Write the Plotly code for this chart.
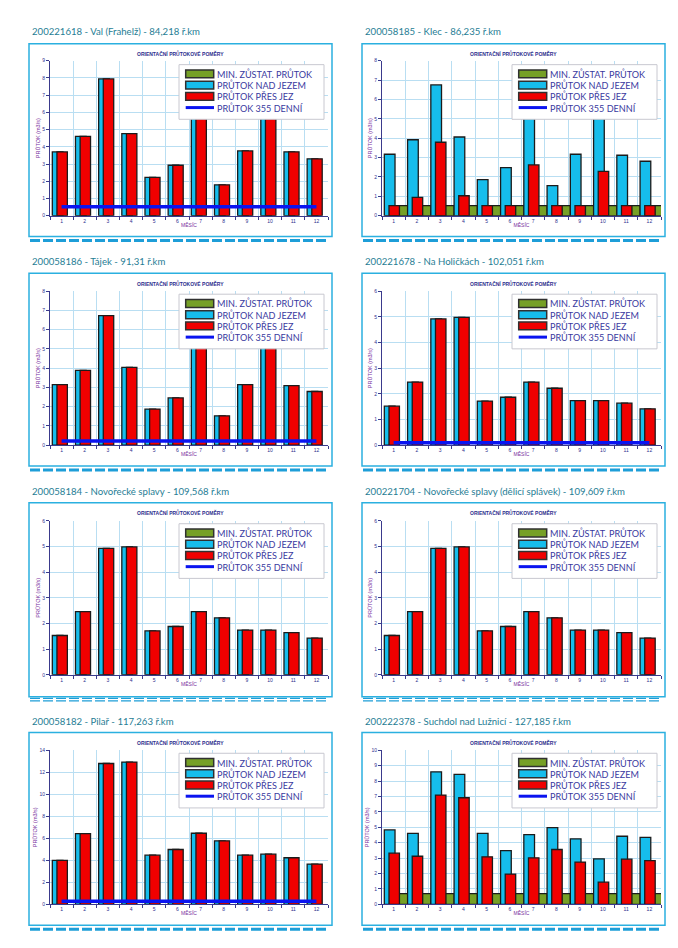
import plotly.graph_objects as go

W, H = 678, 948

# ---------------- data ----------------
months = list(range(1, 13))
month_labels = [str(m) for m in months]

legend_labels = ["MIN. ZŮSTAT. PRŮTOK", "PRŮTOK NAD JEZEM", "PRŮTOK PŘES JEZ", "PRŮTOK 355 DENNÍ"]
chart_title = "ORIENTAČNÍ PRŮTOKOVÉ POMĚRY"
y_title = "PRŮTOK (m3/s)"
x_title = "MĚSÍC"

titles = [
    "200221618 - Val (Frahelž) - 84,218 ř.km",
    "200058185 - Klec - 86,235 ř.km",
    "200058186 - Tájek - 91,31 ř.km",
    "200221678 - Na Holičkách - 102,051 ř.km",
    "200058184 - Novořecké splavy - 109,568 ř.km",
    "200221704 - Novořecké splavy (dělicí splávek) - 109,609 ř.km",
    "200058182 - Pilař - 117,263 ř.km",
    "200222378 - Suchdol nad Lužnicí - 127,185 ř.km",
]

val_nad = [3.70, 4.60, 7.94, 4.76, 2.22, 2.93, 6.54, 1.79, 3.76, 6.15, 3.71, 3.30]
val_pres = [3.70, 4.60, 7.94, 4.76, 2.22, 2.93, 6.54, 1.79, 3.76, 6.15, 3.71, 3.30]
val_min = [None] * 12
val_q355 = [0.52] * 12

klec_nad = [3.17, 3.92, 6.75, 4.06, 1.86, 2.48, 5.59, 1.55, 3.17, 5.26, 3.12, 2.81]
klec_pres = [0.52, 0.95, 3.79, 1.03, 0.52, 0.52, 2.62, 0.52, 0.52, 2.29, 0.52, 0.52]
klec_min = [0.52] * 12
klec_q355 = [None] * 12

tajek_nad = [3.15, 3.89, 6.73, 4.04, 1.88, 2.46, 5.59, 1.53, 3.15, 5.26, 3.10, 2.79]
tajek_pres = [3.15, 3.89, 6.73, 4.04, 1.88, 2.46, 5.59, 1.53, 3.15, 5.26, 3.10, 2.79]
tajek_min = [None] * 12
tajek_q355 = [0.22] * 12

holicky_nad = [1.52, 2.46, 4.92, 4.98, 1.72, 1.87, 2.46, 2.22, 1.74, 1.74, 1.64, 1.42]
holicky_pres = [1.52, 2.46, 4.92, 4.98, 1.72, 1.87, 2.46, 2.22, 1.74, 1.74, 1.64, 1.42]
holicky_min = [None] * 12
holicky_q355 = [0.10] * 12

novorecke_nad = [1.53, 2.46, 4.92, 4.98, 1.71, 1.88, 2.46, 2.22, 1.74, 1.74, 1.64, 1.43]
novorecke_pres = [1.53, 2.46, 4.92, 4.98, 1.71, 1.88, 2.46, 2.22, 1.74, 1.74, 1.64, 1.43]
novorecke_min = [None] * 12
novorecke_q355 = [None] * 12

delici_nad = [1.53, 2.46, 4.92, 4.98, 1.71, 1.88, 2.46, 2.22, 1.74, 1.74, 1.64, 1.43]
delici_pres = [1.53, 2.46, 4.92, 4.98, 1.71, 1.88, 2.46, 2.22, 1.74, 1.74, 1.64, 1.43]
delici_min = [None] * 12
delici_q355 = [None] * 12

pilar_nad = [3.99, 6.43, 12.80, 12.93, 4.47, 4.98, 6.46, 5.77, 4.47, 4.56, 4.23, 3.66]
pilar_pres = [3.99, 6.43, 12.80, 12.93, 4.47, 4.98, 6.46, 5.77, 4.47, 4.56, 4.23, 3.66]
pilar_min = [None] * 12
pilar_q355 = [0.27] * 12

suchdol_nad = [4.83, 4.61, 8.60, 8.43, 4.61, 3.49, 4.53, 4.98, 4.25, 2.95, 4.42, 4.35]
suchdol_pres = [3.32, 3.12, 7.09, 6.92, 3.08, 1.96, 3.02, 3.56, 2.74, 1.44, 2.93, 2.84]
suchdol_min = [0.69] * 12
suchdol_q355 = [None] * 12

y_max = [9, 8, 8, 6, 6, 6, 14, 10]
y_dtick = [1, 1, 1, 1, 1, 1, 2, 1]

series = [
    (val_min, val_nad, val_pres, val_q355),
    (klec_min, klec_nad, klec_pres, klec_q355),
    (tajek_min, tajek_nad, tajek_pres, tajek_q355),
    (holicky_min, holicky_nad, holicky_pres, holicky_q355),
    (novorecke_min, novorecke_nad, novorecke_pres, novorecke_q355),
    (delici_min, delici_nad, delici_pres, delici_q355),
    (pilar_min, pilar_nad, pilar_pres, pilar_q355),
    (suchdol_min, suchdol_nad, suchdol_pres, suchdol_q355),
]

# ---------------- layout geometry (pixels) ----------------
col_box = [(21, 324), (354, 657)]
col_plot = [(42, 320), (374, 653)]
row_box = [(33, 227), (264, 458), (495, 690), (726, 920)]
row_plot = [(50, 206), (282, 437), (513, 668), (744, 899)]
row_title_y = [21, 252, 484, 715]
row_dash_y = [231, 462, 693, 924]
row_dash_double = [False, False, True, False]

C_TITLE = "#1f7d94"
C_BOX = "#2bb0e0"
C_DASH = "#1e9ed8"
C_GRID = "#b9def2"
C_AXIS = "#3a3a8c"
C_TEXT = "#2e2e8e"
C_YTITLE = "#7a2f9e"
C_GREEN = "#76a026"
C_BLUE = "#16bdec"
C_RED = "#f00000"
C_EDGE = "#1b1b1b"
C_LINE = "#0a14f0"


def px(x):
    return x / W


def py(y):
    return 1 - y / H


fig = go.Figure()
shapes = []
annotations = []
layout_axes = {}

for i in range(8):
    r, c = divmod(i, 2)
    xa = "x" if i == 0 else f"x{i+1}"
    ya = "y" if i == 0 else f"y{i+1}"
    xkey = "xaxis" if i == 0 else f"xaxis{i+1}"
    ykey = "yaxis" if i == 0 else f"yaxis{i+1}"
    mn, nad, pres, q355 = series[i]

    fig.add_trace(go.Bar(x=months, y=mn, xaxis=xa, yaxis=ya, offset=0.0, width=0.6,
                         marker=dict(color=C_GREEN, line=dict(color=C_EDGE, width=1.2)),
                         name=legend_labels[0], showlegend=False))
    fig.add_trace(go.Bar(x=months, y=nad, xaxis=xa, yaxis=ya, offset=-0.40, width=0.46,
                         marker=dict(color=C_BLUE, line=dict(color=C_EDGE, width=1.3)),
                         name=legend_labels[1], showlegend=False))
    fig.add_trace(go.Bar(x=months, y=pres, xaxis=xa, yaxis=ya, offset=-0.20, width=0.45,
                         marker=dict(color=C_RED, line=dict(color=C_EDGE, width=1.3)),
                         name=legend_labels[2], showlegend=False))
    fig.add_trace(go.Scatter(x=months, y=q355, xaxis=xa, yaxis=ya, mode="lines",
                             line=dict(color=C_LINE, width=3.5),
                             name=legend_labels[3], showlegend=False))

    xl, xr = col_plot[c]
    yt, yb = row_plot[r]
    layout_axes[xkey] = dict(
        domain=[px(xl), px(xr)], anchor=ya, range=[0.5, 12.5],
        tickmode="array", tickvals=months, ticktext=month_labels,
        ticks="", showgrid=False, zeroline=False,
        showline=True, linecolor=C_AXIS, linewidth=1,
        tickfont=dict(size=5, color=C_TEXT, family="Liberation Sans"),
        minor=dict(tickmode="array", tickvals=[m + 0.5 for m in [0] + months],
                   showgrid=True, gridcolor=C_GRID, gridwidth=1,
                   ticks="outside", ticklen=3, tickcolor=C_AXIS),
        title=dict(text=x_title, font=dict(size=5, color=C_YTITLE, family="Liberation Sans"),
                   standoff=0),
        fixedrange=True,
    )
    layout_axes[ykey] = dict(
        domain=[py(yb), py(yt)], anchor=xa, range=[0, y_max[i]], dtick=y_dtick[i],
        showgrid=True, gridcolor=C_GRID, gridwidth=1, zeroline=False,
        showline=True, linecolor=C_AXIS, linewidth=1,
        ticks="outside", ticklen=3, tickcolor=C_AXIS,
        tickfont=dict(size=5, color=C_TEXT, family="Liberation Sans"),
        title=dict(text=y_title, font=dict(size=5.5, color=C_YTITLE, family="Liberation Sans"),
                   standoff=1),
        fixedrange=True,
    )

    # panel frame
    bl, br = col_box[c]
    bt, bb = row_box[r]
    shapes.append(dict(type="rect", xref="paper", yref="paper",
                       x0=px(bl), x1=px(br), y0=py(bb), y1=py(bt),
                       line=dict(color=C_BOX, width=1.5), fillcolor="rgba(0,0,0,0)",
                       layer="below"))
    # dashed separator
    dy = row_dash_y[r]
    if row_dash_double[r]:
        for off in (-1.2, 1.2):
            shapes.append(dict(type="line", xref="paper", yref="paper",
                               x0=px(bl + 1), x1=px(br - 6), y0=py(dy + off), y1=py(dy + off),
                               line=dict(color=C_DASH, width=1.2, dash="10px,3px")))
    else:
        shapes.append(dict(type="line", xref="paper", yref="paper",
                           x0=px(bl + 1), x1=px(br - 6), y0=py(dy), y1=py(dy),
                           line=dict(color=C_DASH, width=3, dash="10px,3px")))
    # panel title
    annotations.append(dict(text=titles[i], xref="paper", yref="paper",
                            x=px(bl + 1), y=py(row_title_y[r]), xanchor="left", yanchor="middle",
                            showarrow=False,
                            font=dict(size=9.6, color=C_TITLE, family="Lato")))
    # chart title
    annotations.append(dict(text="<b>" + chart_title + "</b>", xref="paper", yref="paper",
                            x=px((bl + br) / 2), y=py(bt + 10), xanchor="center", yanchor="middle",
                            showarrow=False,
                            font=dict(size=5, color=C_TEXT, family="Liberation Sans")))
    # legend box
    ll = bl + 150
    lr = bl + 295
    lt = bt + 21
    lb = lt + 55
    shapes.append(dict(type="rect", xref="paper", yref="paper", layer="above",
                       x0=px(ll), x1=px(lr), y0=py(lb), y1=py(lt),
                       line=dict(color="#c8c8d0", width=1), fillcolor="white"))
    sw_colors = [C_GREEN, C_BLUE, C_RED]
    for k in range(4):
        cy = lt + 9.3 + 11.3 * k
        if k < 3:
            shapes.append(dict(type="rect", xref="paper", yref="paper", layer="above",
                               x0=px(ll + 6.7), x1=px(ll + 34.7), y0=py(cy + 4), y1=py(cy - 4),
                               line=dict(color="#303030", width=1.5), fillcolor=sw_colors[k]))
        else:
            shapes.append(dict(type="line", xref="paper", yref="paper", layer="above",
                               x0=px(ll + 6.7), x1=px(ll + 35), y0=py(cy), y1=py(cy),
                               line=dict(color=C_LINE, width=3)))
        annotations.append(dict(text=legend_labels[k], xref="paper", yref="paper",
                                x=px(ll + 36.3), y=py(cy), xanchor="left", yanchor="middle",
                                showarrow=False,
                                font=dict(size=9.1, color="#3a3aa0", family="Lato")))

fig.update_layout(
    width=W, height=H, autosize=False,
    margin=dict(l=0, r=0, t=0, b=0),
    paper_bgcolor="white", plot_bgcolor="white",
    barmode="overlay", showlegend=False,
    shapes=shapes, annotations=annotations,
    **layout_axes,
)

fig.write_html("out.html")
